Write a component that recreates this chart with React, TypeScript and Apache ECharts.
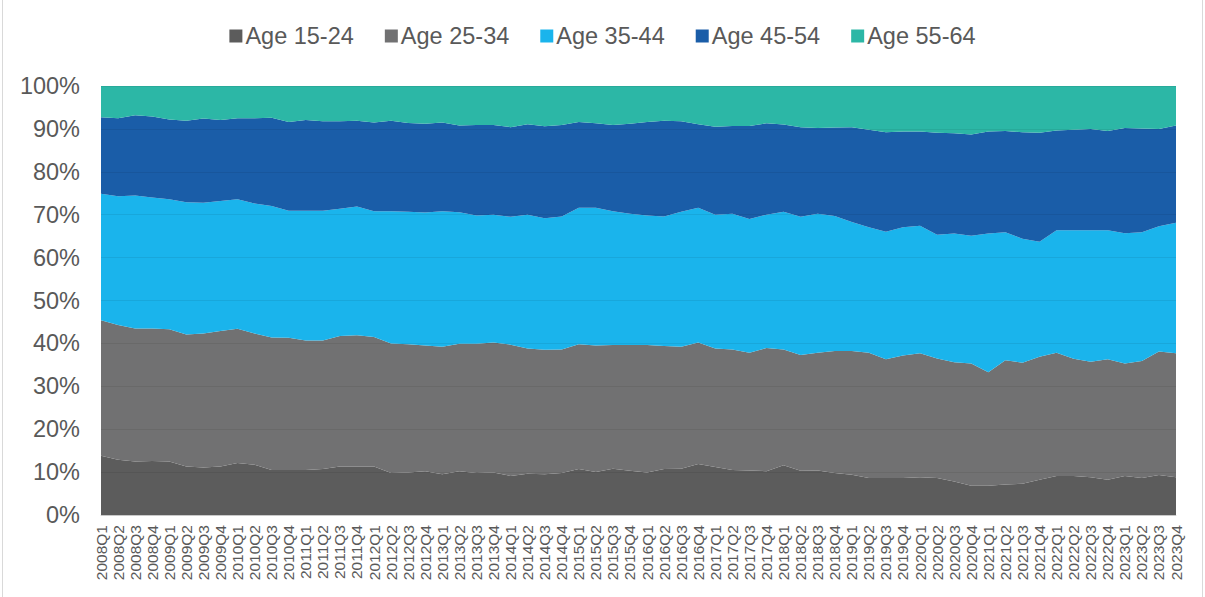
import React, { useEffect, useRef } from "react";
import * as echarts from "echarts";

const years = [2008, 2009, 2010, 2011, 2012, 2013, 2014, 2015, 2016, 2017, 2018, 2019, 2020, 2021, 2022, 2023];
const quarterNames = ["Q1", "Q2", "Q3", "Q4"];
const categories: string[] = [];
years.forEach((y) => quarterNames.forEach((q) => categories.push(`${y}${q}`)));

const seriesNames = ["Age 15-24", "Age 25-34", "Age 35-44", "Age 45-54", "Age 55-64"];
const colors = ["#5c5c5c", "#717172", "#1ab4ec", "#1a5da8", "#2cb7a6"];

const age1524 = [
  13.8, 12.9, 12.5, 12.6, 12.5, 11.3, 11.1, 11.3, 12.1, 11.7, 10.5, 10.5, 10.5, 10.7, 11.3, 11.3,
  11.3, 9.8, 9.9, 10.2, 9.5, 10.2, 9.8, 9.9, 9.1, 9.6, 9.5, 9.8, 10.7, 10.0, 10.8, 10.3,
  9.9, 10.7, 10.8, 11.9, 11.2, 10.5, 10.4, 10.2, 11.6, 10.3, 10.4, 9.8, 9.4, 8.6, 8.6, 8.6,
  8.8, 8.6, 7.8, 6.8, 6.8, 7.1, 7.3, 8.2, 9.1, 9.1, 8.8, 8.2, 9.1, 8.6, 9.3, 8.8,
];
const age2534 = [
  31.6, 31.4, 31.0, 30.9, 30.8, 30.8, 31.2, 31.6, 31.3, 30.6, 30.9, 30.8, 30.2, 30.0, 30.4, 30.6,
  30.2, 30.2, 29.9, 29.3, 29.7, 29.7, 30.1, 30.3, 30.6, 29.2, 29.0, 28.8, 29.1, 29.5, 28.8, 29.3,
  29.7, 28.7, 28.4, 28.3, 27.6, 28.1, 27.4, 28.7, 27.0, 27.0, 27.4, 28.4, 28.8, 29.2, 27.7, 28.6,
  28.9, 27.9, 27.8, 28.5, 26.5, 29.0, 28.2, 28.7, 28.7, 27.3, 26.9, 28.1, 26.2, 27.3, 28.8, 28.9,
];
const age3544 = [
  29.5, 30.0, 31.0, 30.5, 30.3, 30.8, 30.5, 30.3, 30.2, 30.3, 30.6, 29.6, 30.2, 30.2, 29.7, 30.0,
  29.3, 30.8, 30.9, 31.0, 31.6, 30.7, 29.9, 29.8, 29.8, 31.2, 30.7, 31.0, 31.8, 32.1, 31.2, 30.6,
  30.2, 30.2, 31.5, 31.4, 31.2, 31.6, 31.2, 31.1, 32.1, 32.2, 32.4, 31.5, 30.1, 29.3, 29.7, 29.9,
  29.7, 28.8, 30.0, 29.8, 32.3, 29.8, 28.9, 26.8, 28.6, 30.0, 30.7, 30.1, 30.4, 30.0, 29.2, 30.4,
];
const age4554 = [
  17.8, 18.2, 18.7, 18.9, 18.6, 19.0, 19.6, 18.9, 18.9, 19.9, 20.6, 20.7, 21.2, 20.9, 20.4, 20.0,
  20.7, 21.1, 20.7, 20.7, 20.7, 20.2, 21.1, 20.9, 20.9, 21.1, 21.4, 21.3, 20.0, 19.7, 20.1, 21.0,
  21.8, 22.3, 21.1, 19.5, 20.5, 20.5, 21.7, 21.3, 20.3, 20.9, 20.0, 20.6, 22.1, 22.7, 23.2, 22.3,
  22.0, 23.8, 23.4, 23.6, 23.8, 23.6, 24.8, 25.4, 23.2, 23.4, 23.6, 23.1, 24.5, 24.2, 22.7, 22.7,
];
const age5564 = [
  7.3, 7.5, 6.8, 7.1, 7.8, 8.1, 7.6, 7.9, 7.5, 7.5, 7.4, 8.4, 7.9, 8.2, 8.2, 8.1,
  8.5, 8.1, 8.6, 8.8, 8.5, 9.2, 9.1, 9.1, 9.6, 8.9, 9.4, 9.1, 8.4, 8.7, 9.1, 8.8,
  8.4, 8.1, 8.2, 8.9, 9.5, 9.3, 9.3, 8.7, 9.0, 9.6, 9.8, 9.7, 9.6, 10.2, 10.8, 10.6,
  10.6, 10.9, 11.0, 11.3, 10.6, 10.5, 10.8, 10.9, 10.4, 10.2, 10.0, 10.5, 9.8, 9.9, 10.0, 9.2,
];
const seriesValues = [age1524, age2534, age3544, age4554, age5564];

const FONT = "'Liberation Sans', Arial, Helvetica, sans-serif";
const TEXT_COLOR = "#595959";

export default function App() {
  const ref = useRef<HTMLDivElement>(null);

  useEffect(() => {
    if (!ref.current) return;
    const chart = echarts.init(ref.current, undefined, { renderer: "svg" });
    chart.setOption({
      animation: false,
      backgroundColor: "#ffffff",
      textStyle: { fontFamily: FONT },
      legend: {
        top: 19,
        left: "center",
        icon: "rect",
        itemWidth: 13,
        itemHeight: 13,
        itemGap: 31,
        textStyle: { fontFamily: FONT, fontSize: 23.5, color: TEXT_COLOR, padding: [0, 0, 0, -2] },
        data: seriesNames,
      },
      grid: { left: 101, right: 29, top: 86, bottom: 82, containLabel: false },
      xAxis: {
        type: "category",
        data: categories,
        boundaryGap: false,
        axisLine: { show: true, lineStyle: { color: "#d9d9d9", width: 1 } },
        axisTick: { show: false },
        axisLabel: {
          interval: 0,
          rotate: 90,
          margin: 10,
          fontSize: 15.5,
          fontFamily: FONT,
          color: TEXT_COLOR,
        },
        splitLine: { show: false },
      },
      yAxis: {
        type: "value",
        min: 0,
        max: 100,
        interval: 10,
        z: 5,
        axisLine: { show: false },
        axisTick: { show: false },
        axisLabel: {
          formatter: "{value}%",
          margin: 21,
          fontSize: 23.5,
          fontFamily: FONT,
          color: TEXT_COLOR,
        },
        splitLine: { show: true, lineStyle: { color: "rgba(0,0,0,0.07)", width: 1 } },
      },
      series: seriesNames.map((name, i) => ({
        name,
        type: "line",
        stack: "total",
        data: seriesValues[i],
        showSymbol: false,
        symbol: "none",
        lineStyle: { width: 0 },
        itemStyle: { color: colors[i] },
        areaStyle: { color: colors[i], opacity: 1 },
      })),
      graphic: [
        {
          type: "rect",
          shape: { x: 2.5, y: -5, width: 1200, height: 610 },
          style: { fill: "none", stroke: "#d9d9d9", lineWidth: 1 },
          silent: true,
        },
      ],
    });
    return () => chart.dispose();
  }, []);

  return (
    <div
      ref={ref}
      style={{ position: "absolute", left: 0, top: 0, width: 1205, height: 597 }}
    />
  );
}
